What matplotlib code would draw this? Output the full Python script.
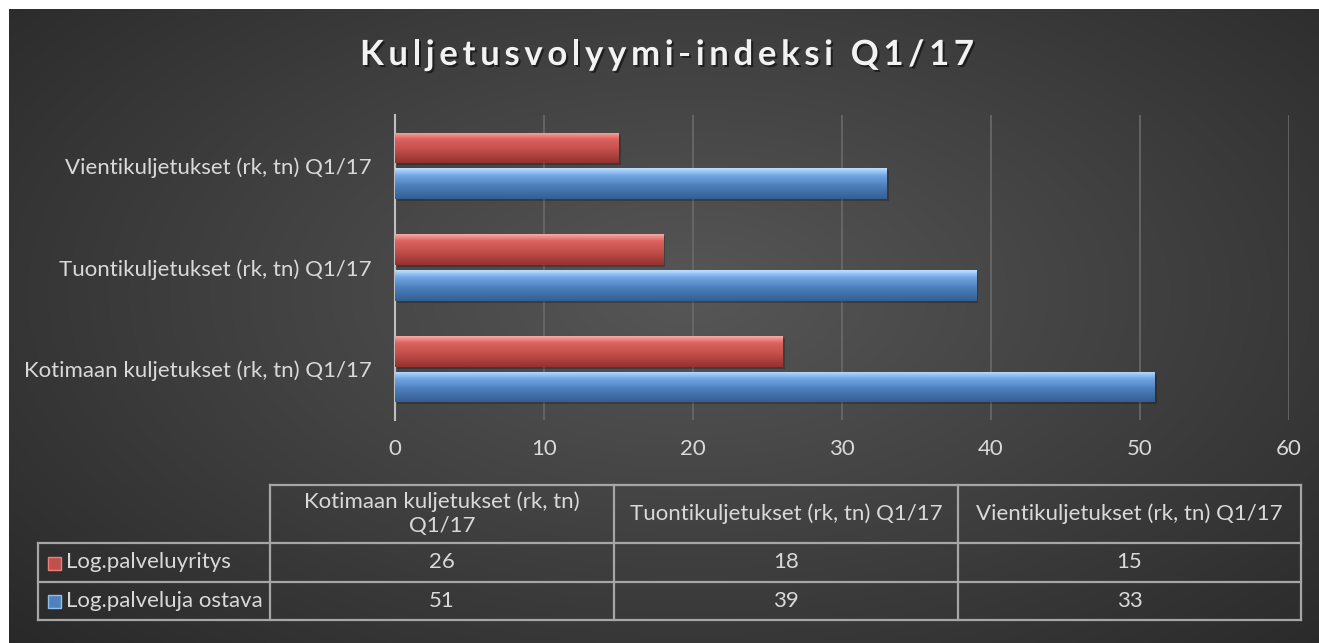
import numpy as np
import matplotlib.pyplot as plt
import matplotlib.patheffects as pe
from matplotlib.colors import LinearSegmentedColormap
from matplotlib.patches import Rectangle

# data
categories = ["Kotimaan kuljetukset (rk, tn) Q1/17",
              "Tuontikuljetukset (rk, tn) Q1/17",
              "Vientikuljetukset (rk, tn) Q1/17"]
table_headers = ["Kotimaan kuljetukset (rk, tn)\nQ1/17",
                 "Tuontikuljetukset (rk, tn) Q1/17",
                 "Vientikuljetukset (rk, tn) Q1/17"]
series_names = ["Log.palveluyritys", "Log.palveluja ostava"]
palveluyritys = [26, 18, 15]
ostava = [51, 39, 33]
x_ticks = [0, 10, 20, 30, 40, 50, 60]
title = "Kuljetusvolyymi-indeksi Q1/17"

plt.rcParams['font.family'] = ['Lato', 'DejaVu Sans']
W, H = 1319, 643
txt_col = "#d9d9d9"
line_col = "#a6a6a6"
fs = 16

fig = plt.figure(figsize=(W / 100, H / 100), dpi=100)
fig.patch.set_facecolor("white")

# background panel with radial gradient
bg = fig.add_axes([9 / W, 0, (W - 9) / W, (H - 9) / H])
yy, xx = np.mgrid[0:1:300j, 0:1:600j]
r = np.sqrt(((xx - 0.52) / 0.75) ** 2 + ((yy - 0.45) / 0.85) ** 2)
shade = np.clip(0.34 - 0.19 * r, 0.15, 0.34)
bg.imshow(np.dstack([shade] * 3), aspect="auto", extent=[0, 1, 0, 1], origin="upper")
bg.set_axis_off()

# main bar axes
ax = fig.add_axes([395 / W, 1 - 420 / H, 894 / W, 305 / H])
ax.set_facecolor("none")
ypos = np.arange(len(categories))
bh = 0.30
off = 0.175

red_cmap = LinearSegmentedColormap.from_list(
    "r", [(0, "#f6a9a6"), (0.22, "#dc625e"), (0.55, "#c4504c"), (1, "#93332f")])
blue_cmap = LinearSegmentedColormap.from_list(
    "b", [(0, "#bfe0ff"), (0.22, "#74a9e6"), (0.55, "#4f81bd"), (1, "#335f93")])

def gradient_bars(vals, yc, cmap):
    # soft shadow under each bar
    ax.barh(yc - 0.02, vals, height=bh, left=0.15, color="black", alpha=0.22, zorder=2)
    bars = ax.barh(yc, vals, height=bh, color="none", zorder=3)
    grad = np.linspace(0, 1, 64).reshape(-1, 1)
    for b in bars:
        x0, y0 = b.get_x(), b.get_y()
        w, h = b.get_width(), b.get_height()
        im = ax.imshow(grad, cmap=cmap, aspect="auto", origin="upper",
                       extent=[x0, x0 + w, y0, y0 + h], zorder=4)
        im.set_clip_path(b)
    return bars

gradient_bars(palveluyritys, ypos + off, red_cmap)
gradient_bars(ostava, ypos - off, blue_cmap)

ax.set_xlim(0, 60)
ax.set_ylim(-0.5, 2.5)
ax.set_xticks(x_ticks)
ax.set_xticklabels([str(t) for t in x_ticks])
ax.set_yticks(ypos)
ax.set_yticklabels(categories)
ax.grid(axis="x", color="#6a6a6a", linewidth=1.2, zorder=0)
ax.set_axisbelow(True)
for s in ["top", "right", "bottom"]:
    ax.spines[s].set_visible(False)
ax.spines["left"].set_color("#bfbfbf")
ax.spines["left"].set_linewidth(1.5)
ax.tick_params(axis="both", length=0, colors=txt_col, labelsize=fs)
ax.tick_params(axis="x", pad=14)
ax.tick_params(axis="y", pad=16.5)

# title, letter-spaced by placing characters one by one
renderer = fig.canvas.get_renderer()
tkw = dict(fontsize=25, fontweight="bold", color="#f2f2f2", va="center", ha="left",
           path_effects=[pe.SimplePatchShadow(offset=(1.5, -1.5), shadow_rgbFace="black", alpha=0.5),
                         pe.Normal()])

def prefix_width(s):
    t = fig.text(0, 0, s + "|", **tkw)
    w1 = t.get_window_extent(renderer).width
    t.remove()
    t = fig.text(0, 0, "|", **tkw)
    w2 = t.get_window_extent(renderer).width
    t.remove()
    return w1 - w2

title_left, title_right = 360, 974
base_w = prefix_width(title)
spacing = (title_right - title_left - base_w) / (len(title) - 1)
for i, ch in enumerate(title):
    if ch == " ":
        continue
    xpx = title_left + prefix_width(title[:i]) + i * spacing
    fig.text(xpx / W, 1 - 55 / H, ch, **tkw)

# data table below chart
tb = fig.add_axes([0, 0, 1, 1])
tb.set_xlim(0, W)
tb.set_ylim(H, 0)
tb.set_axis_off()
tb.patch.set_alpha(0)

col_x = [270, 614, 958, 1301]
row_y = [485, 543, 582, 620]
lx = 38
lw = 1.6
tb.plot([col_x[0], col_x[-1]], [row_y[0], row_y[0]], color=line_col, lw=lw)
for yv in row_y[1:]:
    tb.plot([lx, col_x[-1]], [yv, yv], color=line_col, lw=lw)
for xv in col_x:
    tb.plot([xv, xv], [row_y[0], row_y[-1]], color=line_col, lw=lw)
tb.plot([lx, lx], [row_y[1], row_y[-1]], color=line_col, lw=lw)

for i, hdr in enumerate(table_headers):
    cx = (col_x[i] + col_x[i + 1]) / 2
    tb.text(cx, (row_y[0] + row_y[1]) / 2, hdr, ha="center", va="center",
            color=txt_col, fontsize=fs, linespacing=1.25)

series_vals = [palveluyritys, ostava]
marker_cols = [("#e8807c", "#c0504d"), ("#8fc0f0", "#4f81bd")]
for k, name in enumerate(series_names):
    yc = (row_y[k + 1] + row_y[k + 2]) / 2
    tb.add_patch(Rectangle((48, yc - 6), 13, 13, facecolor=marker_cols[k][1],
                           edgecolor=marker_cols[k][0], lw=1))
    tb.text(66, yc, name, ha="left", va="center", color=txt_col, fontsize=fs)
    for i, v in enumerate(series_vals[k]):
        cx = (col_x[i] + col_x[i + 1]) / 2
        tb.text(cx, yc, str(v), ha="center", va="center", color=txt_col, fontsize=fs)

fig.savefig("out.png", dpi=100, facecolor=fig.get_facecolor())
